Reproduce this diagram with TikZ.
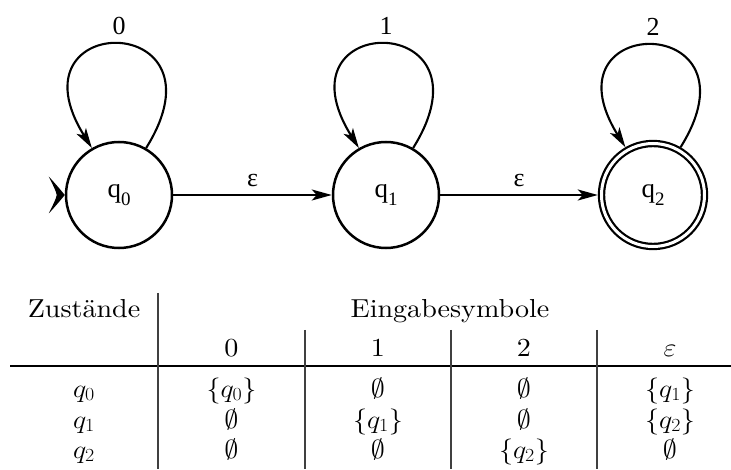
\RequirePackage{fix-cm}
\documentclass[tikz,border=0pt]{standalone}
\usepackage{fontspec}
\usepackage{graphicx}
\newfontfamily\gfont{Liberation Serif}
\newfontfamily\tabfont{lmroman10-regular.otf}
\DeclareMathSizes{26}{26}{18.5}{13}
\usetikzlibrary{arrows.meta}
\newcommand{\tb}[1]{\scalebox{1.08}[1]{#1}}
\newcommand{\sbs}[1]{\raisebox{-0.28em}{\fontsize{19}{20}\selectfont #1}}
\tikzset{
  state/.style={circle, draw, line width=2.5pt, minimum size=106pt, inner sep=0pt, outer sep=1.25pt, font=\gfont\fontsize{27}{30}\selectfont},
  accstate/.style={circle, draw, line width=2.2pt, double, double distance=3pt, minimum size=103pt, inner sep=0pt, outer sep=3.7pt, font=\gfont\fontsize{27}{30}\selectfont},
  trans/.style={line width=2.1pt, -{Stealth[length=20pt,width=11pt,inset=5pt]}},
  glabel/.style={font=\gfont\fontsize{26}{30}\selectfont, inner sep=1pt},
  tabtxt/.style={anchor=base, inner sep=0pt, font=\tabfont\fontsize{26}{30}\selectfont},
  hline/.style={line width=1.5pt},
  vline/.style={line width=1.2pt, black!75}
}
\begin{document}
\begin{tikzpicture}[x=1pt,y=1pt]
\useasboundingbox (0,0) rectangle (731,469);
% states
\node[state] (q0) at (119,274) {q\sbs{0}};
\node[state] (q1) at (386,274) {q\sbs{1}};
\node[accstate] (q2) at (653,274) {q\sbs{2}};
% start marker
\fill[shift={(q0.west)}] (0,0) .. controls (-4,5) and (-10,12) .. (-16,18.5) .. controls (-12,10) and (-9,5) .. (-8,0) .. controls (-9,-5) and (-12,-10) .. (-16,-18.5) .. controls (-10,-12) and (-4,-5) .. (0,0) -- cycle;
% transitions
\draw[trans] (q0) -- node[glabel, above=6pt] (e1) {ε} (q1);
\draw[trans] (q1) -- node[glabel, above=6pt] (e2) {ε} (q2);
% loops
\draw[trans] (q0.60) to[out=58,in=122,distance=163pt] node[glabel, above=8pt] (l0) {0} (q0.120);
\draw[trans] (q1.60) to[out=58,in=122,distance=163pt] node[glabel, above=8pt] (l1) {1} (q1.120);
\draw[trans] (q2.60) to[out=58,in=122,distance=160pt] node[glabel, above=8pt] (l2) {2} (q2.120);
% table
\draw[hline] (10,103) -- (731,103);
\draw[vline] (158,176) -- (158,0);
\draw[vline] (305,139) -- (305,0);
\draw[vline] (451,139) -- (451,0);
\draw[vline] (597,139) -- (597,0);
\node[tabtxt] (hz) at (84,151) {\tb{Zustände}};
\node[tabtxt] (he) at (450,151) {\tb{Eingabesymbole}};
\node[tabtxt] (c0) at (231.5,113) {\tb{0}};
\node[tabtxt] (c1) at (378,113) {\tb{1}};
\node[tabtxt] (c2) at (524,113) {\tb{2}};
\node[tabtxt] (c3) at (670,113) {\tb{$\varepsilon$}};
% row q0
\node[tabtxt] (r0) at (84,72) {\tb{$q_0$}};
\node[tabtxt] (r00) at (231.5,72) {\tb{$\{q_0\}$}};
\node[tabtxt] (r01) at (378,72) {\tb{$\emptyset$}};
\node[tabtxt] (r02) at (524,72) {\tb{$\emptyset$}};
\node[tabtxt] (r03) at (670,72) {\tb{$\{q_1\}$}};
% row q1
\node[tabtxt] (r1) at (84,41) {\tb{$q_1$}};
\node[tabtxt] (r10) at (231.5,41) {\tb{$\emptyset$}};
\node[tabtxt] (r11) at (378,41) {\tb{$\{q_1\}$}};
\node[tabtxt] (r12) at (524,41) {\tb{$\emptyset$}};
\node[tabtxt] (r13) at (670,41) {\tb{$\{q_2\}$}};
% row q2
\node[tabtxt] (r2) at (84,11) {\tb{$q_2$}};
\node[tabtxt] (r20) at (231.5,11) {\tb{$\emptyset$}};
\node[tabtxt] (r21) at (378,11) {\tb{$\emptyset$}};
\node[tabtxt] (r22) at (524,11) {\tb{$\{q_2\}$}};
\node[tabtxt] (r23) at (670,11) {\tb{$\emptyset$}};
\end{tikzpicture}
\end{document}
